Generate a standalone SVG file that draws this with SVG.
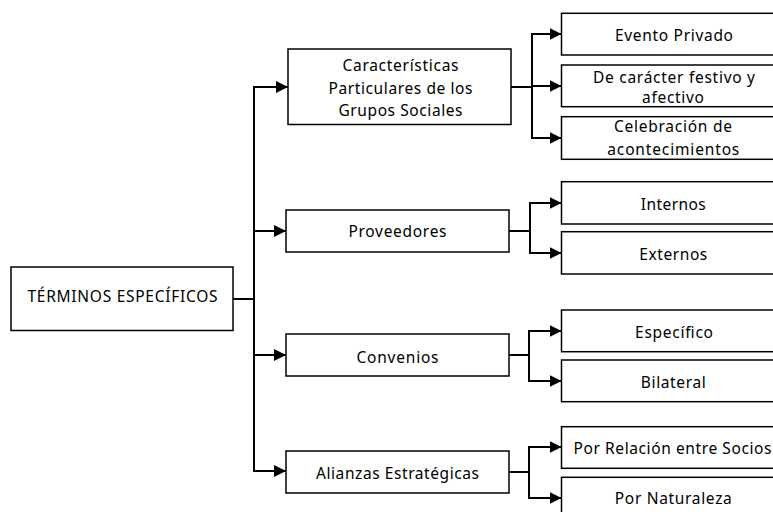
<svg xmlns="http://www.w3.org/2000/svg" width="773" height="512" viewBox="0 0 773 512">
<style>
.box{fill:#fff;stroke:#000;stroke-width:1.5}
.t{font-family:"Noto Sans","Liberation Sans",sans-serif;font-size:15.5px;fill:#000;text-anchor:middle}
.c{fill:none;stroke:#000;stroke-width:2}
.a{marker-end:url(#ah)}
</style>
<defs>
<marker id="ah" markerUnits="userSpaceOnUse" viewBox="0 0 12 12" refX="12" refY="6" markerWidth="12" markerHeight="12" orient="auto">
<path d="M0,0 L12,6 L0,12 Z" fill="#000"/>
</marker>
</defs>
<rect width="773" height="512" fill="#fff"/>
<g id="connectors">
<path class="c" d="M233,299 H254"/>
<path class="c" d="M254,87 V472"/>
<path class="c a" d="M253,87 H288"/>
<path class="c a" d="M253,231 H286"/>
<path class="c a" d="M253,355 H286"/>
<path class="c a" d="M253,471 H286"/>
<path class="c" d="M511,87 H532"/>
<path class="c" d="M532,34 V138"/>
<path class="c a" d="M531,34 H561.5"/>
<path class="c a" d="M531,86 H561.5"/>
<path class="c a" d="M531,138 H561.5"/>
<path class="c" d="M509,231 H530"/>
<path class="c" d="M530,203 V253"/>
<path class="c a" d="M529,203 H561.5"/>
<path class="c a" d="M529,253 H561.5"/>
<path class="c" d="M509,355 H529"/>
<path class="c" d="M529,331 V381"/>
<path class="c a" d="M528,331 H561.5"/>
<path class="c a" d="M528,381 H561.5"/>
<path class="c" d="M509,472 H529"/>
<path class="c" d="M529,447 V498"/>
<path class="c a" d="M528,447 H561.5"/>
<path class="c a" d="M528,498 H561.5"/>
</g>
<g id="root">
<rect class="box" x="11" y="267" width="222" height="63.5"/>
<text class="t" x="122.5" y="302" textLength="190">TÉRMINOS ESPECÍFICOS</text>
</g>
<g id="caracteristicas">
<rect class="box" x="288" y="49" width="223" height="75.5"/>
<text class="t" x="400.5" y="71" textLength="116">Características</text>
<text class="t" x="400.5" y="93.5" textLength="144">Particulares de los</text>
<text class="t" x="400.5" y="116" textLength="124">Grupos Sociales</text>
</g>
<g id="proveedores">
<rect class="box" x="286" y="210" width="223" height="42"/>
<text class="t" x="397.5" y="237" textLength="98">Proveedores</text>
</g>
<g id="convenios">
<rect class="box" x="286" y="334" width="223" height="42"/>
<text class="t" x="397.5" y="362.5" textLength="82">Convenios</text>
</g>
<g id="alianzas">
<rect class="box" x="286" y="451" width="223" height="42"/>
<text class="t" x="397.5" y="478.5" textLength="163">Alianzas Estratégicas</text>
</g>
<g id="evento">
<rect class="box" x="561.5" y="13.3" width="230" height="41.7"/>
<text class="t" x="674" y="40.7" textLength="118">Evento Privado</text>
</g>
<g id="festivo">
<rect class="box" x="561.5" y="65" width="230" height="41.7"/>
<text class="t" x="674" y="82.7" textLength="162">De carácter festivo y</text>
<text class="t" x="673" y="102.7" textLength="62">afectivo</text>
</g>
<g id="celebracion">
<rect class="box" x="561.5" y="116.7" width="230" height="42.6"/>
<text class="t" x="673" y="131.7" textLength="118">Celebración de</text>
<text class="t" x="673.3" y="155" textLength="132">acontecimientos</text>
</g>
<g id="internos">
<rect class="box" x="561.5" y="181.7" width="230" height="42.3"/>
<text class="t" x="673.3" y="210" textLength="65">Internos</text>
</g>
<g id="externos">
<rect class="box" x="561.5" y="231.7" width="230" height="42.3"/>
<text class="t" x="673.3" y="260" textLength="68">Externos</text>
</g>
<g id="especifico">
<rect class="box" x="561.5" y="310" width="230" height="41.7"/>
<text class="t" x="674" y="337.7" textLength="78">Específico</text>
</g>
<g id="bilateral">
<rect class="box" x="561.5" y="360" width="230" height="41.7"/>
<text class="t" x="673.3" y="387.7" textLength="65">Bilateral</text>
</g>
<g id="relacion">
<rect class="box" x="561.5" y="426.7" width="230" height="41.6"/>
<text class="t" x="672.5" y="454" textLength="198">Por Relación entre Socios</text>
</g>
<g id="naturaleza">
<rect class="box" x="561.5" y="477.3" width="230" height="42"/>
<text class="t" x="673.3" y="504" textLength="117">Por Naturaleza</text>
</g>
</svg>
